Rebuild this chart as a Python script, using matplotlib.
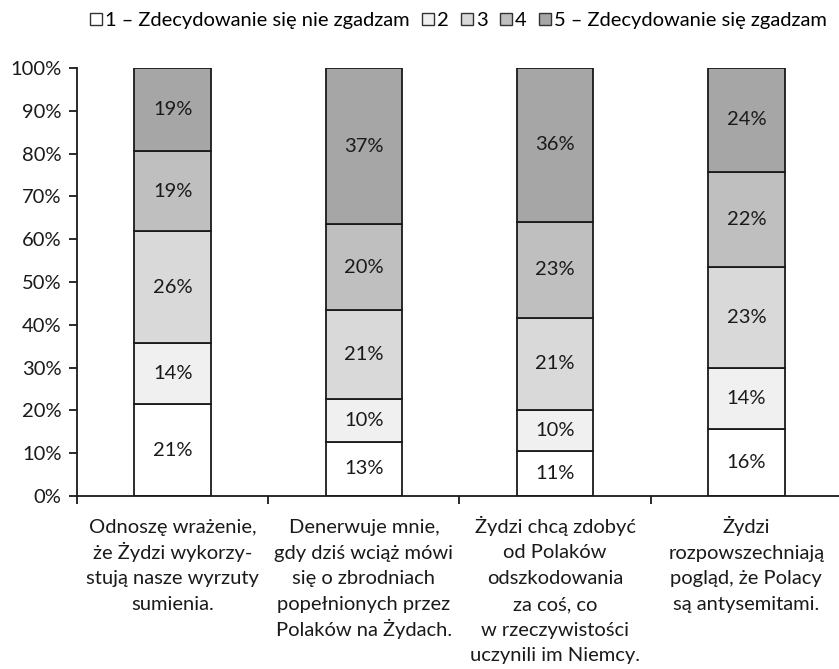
import matplotlib
matplotlib.use("Agg")
import matplotlib.pyplot as plt
import numpy as np
from matplotlib.patches import Patch
from matplotlib.ticker import PercentFormatter, FixedLocator
from matplotlib.transforms import offset_copy

plt.rcParams["font.family"] = ["Lato", "DejaVu Sans"]

categories = [
    "Odnoszę wrażenie,\nże Żydzi wykorzy-\nstują nasze wyrzuty\nsumienia.",
    "Denerwuje mnie,\ngdy dziś wciąż mówi\nsię o zbrodniach\npopełnionych przez\nPolaków na Żydach.",
    "Żydzi chcą zdobyć\nod Polaków\nodszkodowania\nza coś, co\nw rzeczywistości\nuczynili im Niemcy.",
    "Żydzi\nrozpowszechniają\npogląd, że Polacy\nsą antysemitami.",
]
series_names = ["1 – Zdecydowanie się nie zgadzam", "2", "3", "4", "5 – Zdecydowanie się zgadzam"]
# shares (%) per answer, one list per answer level
s1 = [21.4, 12.7, 10.6, 15.6]
s2 = [14.3, 9.9, 9.6, 14.3]
s3 = [26.1, 20.9, 21.4, 23.5]
s4 = [18.9, 20.0, 22.5, 22.4]
s5 = [19.3, 36.5, 35.9, 24.2]
labels = [
    ["21%", "13%", "11%", "16%"],
    ["14%", "10%", "10%", "14%"],
    ["26%", "21%", "21%", "23%"],
    ["19%", "20%", "23%", "22%"],
    ["19%", "37%", "36%", "24%"],
]
colors = ["#ffffff", "#f0f0f0", "#d9d9d9", "#bfbfbf", "#a6a6a6"]
FS = 14.5
INK = "#1a1a1a"

fig = plt.figure(figsize=(8.39, 6.69), dpi=100)
ax = fig.add_axes([77 / 839, 1 - 496 / 669, (842 - 77) / 839, (496 - 68) / 669])

x = np.arange(len(categories))
bottom = np.zeros(len(categories))
for vals, lab, col, name in zip([s1, s2, s3, s4, s5], labels, colors, series_names):
    vals = np.array(vals)
    ax.bar(x, vals, 0.4, bottom=bottom, color=col, edgecolor=INK, linewidth=1.3, label=name)
    for xi, b, v, t in zip(x, bottom, vals, lab):
        ax.text(xi, b + v / 2, t, ha="center", va="center", fontsize=FS, color=INK)
    bottom += vals

ax.set_xlim(-0.5, 3.5)
ax.set_ylim(0, 100)
ax.yaxis.set_major_locator(FixedLocator(np.arange(0, 101, 10)))
ax.yaxis.set_major_formatter(PercentFormatter(decimals=0))
ax.tick_params(axis="y", labelsize=FS, length=6, width=1.3, pad=5, colors=INK)
ax.set_xticks(np.arange(-0.5, 4, 1))
ax.set_xticklabels([])
ax.tick_params(axis="x", length=6, width=1.3, colors=INK)

# category labels, one text per line on a shared baseline grid
base = ax.get_xaxis_transform()
for xi, cat in zip(x, categories):
    for i, line in enumerate(cat.split("\n")):
        tr = offset_copy(base, fig=fig, y=-26.5 - i * 18.5, units="points")
        ax.text(xi, 0, line, transform=tr, ha="center", va="baseline", fontsize=FS, color=INK)

for sp in ["top", "right"]:
    ax.spines[sp].set_visible(False)
for sp in ["left", "bottom"]:
    ax.spines[sp].set_linewidth(1.3)
    ax.spines[sp].set_color(INK)

handles = [Patch(facecolor=c, edgecolor="#333333", linewidth=1) for c in colors]
fig.legend(handles, series_names, loc="upper right", bbox_to_anchor=(1.0, 1.0), ncol=5,
           frameon=False, fontsize=FS, handlelength=0.6, handleheight=0.6,
           handletextpad=0.15, columnspacing=0.6, borderaxespad=0.2)

fig.savefig("out.png", dpi=100)
